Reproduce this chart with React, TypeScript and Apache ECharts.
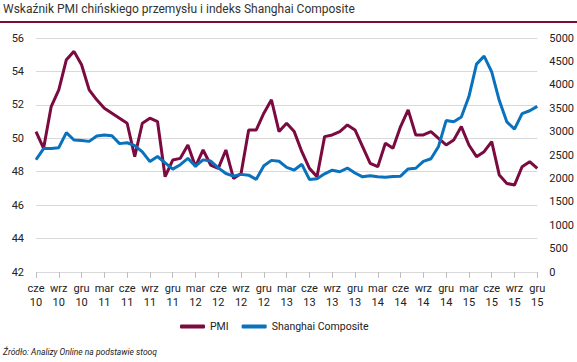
import React, { useEffect, useRef } from "react";
import * as echarts from "echarts";

const categories: string[] = [
  "cze\n10", "lip\n10", "sie\n10", "wrz\n10", "paź\n10", "lis\n10", "gru\n10",
  "sty\n11", "lut\n11", "mar\n11", "kwi\n11", "maj\n11", "cze\n11", "lip\n11", "sie\n11", "wrz\n11", "paź\n11", "lis\n11", "gru\n11",
  "sty\n12", "lut\n12", "mar\n12", "kwi\n12", "maj\n12", "cze\n12", "lip\n12", "sie\n12", "wrz\n12", "paź\n12", "lis\n12", "gru\n12",
  "sty\n13", "lut\n13", "mar\n13", "kwi\n13", "maj\n13", "cze\n13", "lip\n13", "sie\n13", "wrz\n13", "paź\n13", "lis\n13", "gru\n13",
  "sty\n14", "lut\n14", "mar\n14", "kwi\n14", "maj\n14", "cze\n14", "lip\n14", "sie\n14", "wrz\n14", "paź\n14", "lis\n14", "gru\n14",
  "sty\n15", "lut\n15", "mar\n15", "kwi\n15", "maj\n15", "cze\n15", "lip\n15", "sie\n15", "wrz\n15", "paź\n15", "lis\n15", "gru\n15",
];

const pmi: number[] = [
  50.4, 49.4, 51.9, 52.9, 54.7, 55.2, 54.4,
  52.9, 52.3, 51.8, 51.5, 51.2, 50.9, 48.9, 50.9, 51.2, 51.0, 47.7, 48.7,
  48.8, 49.6, 48.3, 49.3, 48.4, 48.2, 49.3, 47.6, 47.9, 50.5, 50.5, 51.5,
  52.3, 50.4, 50.9, 50.4, 49.2, 48.2, 47.7, 50.1, 50.2, 50.4, 50.8, 50.5,
  49.5, 48.5, 48.3, 49.7, 49.4, 50.7, 51.7, 50.2, 50.2, 50.4, 50.0, 49.6,
  49.9, 50.7, 49.6, 48.9, 49.2, 49.8, 47.8, 47.3, 47.2, 48.3, 48.6, 48.2,
];

const shanghai: number[] = [
  2398, 2638, 2639, 2656, 2979, 2820, 2808,
  2791, 2905, 2928, 2912, 2743, 2762, 2702, 2567, 2359, 2468, 2333, 2199,
  2293, 2428, 2263, 2396, 2372, 2225, 2104, 2048, 2086, 2069, 1980, 2269,
  2385, 2366, 2237, 2178, 2301, 1979, 1994, 2098, 2175, 2142, 2221, 2116,
  2033, 2056, 2033, 2026, 2039, 2048, 2202, 2217, 2364, 2420, 2683, 3235,
  3210, 3310, 3748, 4442, 4612, 4277, 3664, 3206, 3053, 3383, 3445, 3539,
];

const leftTicks = { min: 42, max: 56, interval: 2 };
const rightTicks = { min: 0, max: 5000, interval: 500 };

const titleText = "Wskaźnik PMI chińskiego przemysłu i indeks Shanghai Composite";
const sourceText = "Źródło: Analizy Online na podstawie stooq";

const PMI_COLOR = "#7b0a40";
const SH_COLOR = "#0a72bd";
const FONT = "Roboto, 'DejaVu Sans', sans-serif";

export default function App() {
  const ref = useRef<HTMLDivElement>(null);
  useEffect(() => {
    if (!ref.current) return;
    const chart = echarts.init(ref.current, undefined, { renderer: "svg" });
    chart.setOption({
      animation: false,
      backgroundColor: "#ffffff",
      textStyle: { fontFamily: FONT },
      grid: { left: 36, right: 37, top: 38, bottom: 90, containLabel: false },
      graphic: [
        {
          type: "text",
          left: 3,
          top: 3,
          style: { text: titleText, fontSize: 12, fill: "#333333", fontFamily: FONT },
        },
        {
          type: "rect",
          left: 0,
          top: 21,
          shape: { width: 577, height: 2 },
          style: { fill: PMI_COLOR },
        },
        {
          type: "text",
          left: 3,
          top: 347,
          style: { text: sourceText, fontSize: 8.5, fontStyle: "italic", fill: "#222222", fontFamily: FONT },
        },
      ],
      legend: {
        left: 175,
        top: 316,
        itemWidth: 25,
        itemHeight: 4,
        itemGap: 13,
        icon: "roundRect",
        textStyle: { fontSize: 10.5, color: "#222222", fontFamily: FONT },
        data: ["PMI", "Shanghai Composite"],
      },
      xAxis: {
        type: "category",
        data: categories,
        boundaryGap: false,
        axisLine: { show: false },
        axisTick: { show: true, interval: 2, length: 6, lineStyle: { color: "#bfbfbf" } },
        axisLabel: { interval: 2, margin: 9, fontSize: 11, lineHeight: 14, color: "#222222", fontFamily: FONT },
        splitLine: { show: false },
      },
      yAxis: [
        {
          type: "value",
          min: leftTicks.min,
          max: leftTicks.max,
          interval: leftTicks.interval,
          axisLine: { show: false },
          axisTick: { show: false },
          axisLabel: { margin: 12, fontSize: 11, color: "#222222", fontFamily: FONT },
          splitLine: { lineStyle: { color: "#d9d9d9", width: 1 } },
        },
        {
          type: "value",
          min: rightTicks.min,
          max: rightTicks.max,
          interval: rightTicks.interval,
          position: "right",
          axisLine: { show: false },
          axisTick: { show: false },
          axisLabel: {
            margin: 12,
            fontSize: 11,
            color: "#222222",
            fontFamily: FONT,
            formatter: (v: number) => String(v),
          },
          splitLine: { show: false },
        },
      ],
      series: [
        {
          name: "PMI",
          type: "line",
          yAxisIndex: 0,
          data: pmi,
          showSymbol: false,
          symbol: "none",
          lineStyle: { color: PMI_COLOR, width: 3 },
          itemStyle: { color: PMI_COLOR },
        },
        {
          name: "Shanghai Composite",
          type: "line",
          yAxisIndex: 1,
          data: shanghai,
          showSymbol: false,
          symbol: "none",
          lineStyle: { color: SH_COLOR, width: 3 },
          itemStyle: { color: SH_COLOR },
        },
      ],
    });
    return () => chart.dispose();
  }, []);
  return (
    <div
      ref={ref}
      style={{ position: "fixed", left: 0, top: 0, width: 577, height: 362, background: "#fff" }}
    />
  );
}
